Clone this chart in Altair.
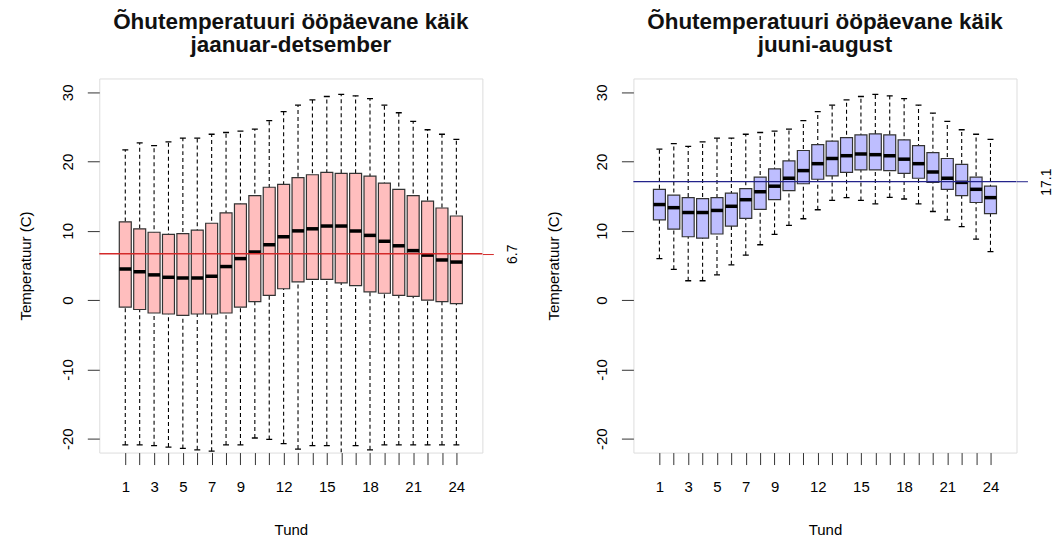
import altair as alt
import pandas as pd

hours = list(range(1, 25))
x_label_hours = [1, 3, 5, 7, 9, 12, 15, 18, 21, 24]
y_ticks = [-20, -10, 0, 10, 20, 30]

# jaanuar-detsember
lo_all = [-20.9, -20.9, -21.0, -21.2, -21.4, -21.6, -21.8, -20.9, -20.9, -19.9, -20.1, -20.7,
          -21.5, -21.0, -21.0, -23.0, -21.0, -21.6, -20.9, -20.9, -20.9, -20.9, -20.9, -20.9]
q1_all = [-1.0, -1.35, -1.85, -2.0, -2.2, -2.0, -2.0, -1.85, -1.0, -0.2, 0.7, 1.65,
          2.65, 3.0, 3.0, 2.5, 2.1, 1.2, 1.0, 0.7, 0.55, 0.0, -0.2, -0.5]
med_all = [4.5, 4.1, 3.65, 3.3, 3.2, 3.2, 3.45, 4.85, 6.0, 6.95, 8.0, 9.15,
           10.0, 10.3, 10.7, 10.7, 10.0, 9.35, 8.5, 7.85, 7.15, 6.5, 5.8, 5.5]
q3_all = [11.3, 10.3, 9.8, 9.5, 9.6, 10.1, 11.1, 12.6, 13.9, 15.1, 16.3, 16.7,
          17.7, 18.1, 18.45, 18.3, 18.3, 17.9, 16.9, 16.0, 15.1, 14.3, 13.3, 12.15]
hi_all = [21.7, 22.7, 22.3, 22.85, 23.4, 23.4, 23.95, 24.2, 24.4, 24.7, 25.9, 27.2,
          28.15, 28.9, 29.4, 29.7, 29.5, 29.1, 28.15, 27.05, 25.8, 24.6, 23.95, 23.2]
mean_all = 6.7

# juuni-august
lo_sum = [6.0, 4.45, 2.8, 2.8, 3.65, 5.1, 6.5, 8.0, 9.5, 10.8, 11.75, 13.05,
          14.4, 14.8, 14.4, 13.9, 14.85, 14.6, 13.9, 12.8, 11.6, 10.6, 8.8, 7.0]
q1_sum = [11.6, 10.25, 9.15, 8.95, 9.55, 10.7, 11.8, 13.1, 14.5, 15.8, 16.8, 17.45,
          17.95, 18.45, 18.8, 18.8, 18.7, 18.3, 17.6, 17.0, 16.0, 15.1, 14.1, 12.5]
med_sum = [13.8, 13.35, 12.65, 12.65, 12.95, 13.55, 14.5, 15.65, 16.45, 17.6, 18.7, 19.7,
           20.45, 20.85, 21.1, 21.0, 20.85, 20.35, 19.7, 18.5, 17.6, 17.0, 16.0, 14.8]
q3_sum = [16.0, 15.15, 14.8, 14.65, 14.8, 15.45, 16.1, 17.75, 18.95, 20.1, 21.6, 22.45,
          22.95, 23.45, 23.85, 24.0, 23.85, 23.15, 22.3, 21.3, 20.45, 19.6, 17.75, 16.45]
hi_sum = [21.8, 22.6, 22.2, 22.85, 23.4, 23.4, 23.95, 24.2, 24.4, 24.7, 25.9, 27.2,
          28.15, 28.9, 29.4, 29.7, 29.5, 29.1, 28.15, 27.0, 25.8, 24.6, 23.95, 23.2]
mean_sum = 17.1

title_line1 = "Õhutemperatuuri ööpäevane käik"
sub_all = "jaanuar-detsember"
sub_sum = "juuni-august"

FONT = "Liberation Sans"
W, H = 384, 375
XDOM = [-0.46, 25.46]
YDOM = [-22, 32]

label_expr = "indexof([" + ",".join(str(v) for v in x_label_hours) + "], datum.value) >= 0 ? datum.label : ''"
minus_expr = "replace(datum.label, '\u2212', '-')"


def panel(lo, q1, med, q3, hi, mean, fill, linecol, sub, ytitle_pad):
    df = pd.DataFrame({"hour": hours, "lo": lo, "q1": q1, "med": med, "q3": q3, "hi": hi})
    base = alt.Chart(df)
    xenc = alt.X("hour:Q", scale=alt.Scale(domain=XDOM, nice=False, zero=False),
                 axis=alt.Axis(values=hours, labelExpr=label_expr, title="Tund", grid=False,
                               domain=False, tickSize=12, tickColor="#333", labelPadding=15,
                               titlePadding=28, labelFontSize=15, titleFontSize=15,
                               titleFontWeight="normal"))
    yscale = alt.Scale(domain=YDOM, nice=False, zero=False)
    yaxis = alt.Axis(values=y_ticks, title="Temperatuur (C)", grid=False, domain=False,
                     tickSize=12, tickColor="#333", labelAngle=-90, labelAlign="center",
                     labelBaseline="bottom", labelPadding=12, titlePadding=ytitle_pad,
                     labelFontSize=15, titleFontSize=15, titleFontWeight="normal",
                     labelExpr=minus_expr)
    whisk = base.mark_rule(strokeDash=[4, 3], color="black", strokeWidth=1.1, clip=True).encode(
        x=xenc, y=alt.Y("lo:Q", scale=yscale, axis=yaxis), y2="hi:Q")
    cap_lo = base.mark_tick(orient="horizontal", size=6, thickness=1.3, color="black",
                            opacity=1, clip=True).encode(
        x=xenc, y=alt.Y("lo:Q", scale=yscale, axis=yaxis))
    cap_hi = base.mark_tick(orient="horizontal", size=6, thickness=1.3, color="black",
                            opacity=1, clip=True).encode(
        x=xenc, y=alt.Y("hi:Q", scale=yscale, axis=yaxis))
    box = base.mark_bar(orient="vertical", size=12, fill=fill, stroke="#333", strokeWidth=1.2,
                        opacity=1).encode(
        x=xenc, y=alt.Y("q1:Q", scale=yscale, axis=yaxis), y2="q3:Q")
    medm = base.mark_tick(orient="horizontal", size=12, thickness=3.5, color="black",
                          opacity=1).encode(
        x=xenc, y=alt.Y("med:Q", scale=yscale, axis=yaxis))
    boxes = alt.layer(whisk, cap_lo, cap_hi, box, medm)
    mdf = pd.DataFrame({"m": [mean]})
    mline = alt.Chart(mdf).mark_rule(color=linecol, strokeWidth=1.3).encode(
        y=alt.Y("m:Q", scale=alt.Scale(domain=YDOM, nice=False, zero=False),
                axis=alt.Axis(orient="right", values=[mean], title=None, grid=False, domain=False,
                              tickSize=11, tickColor=linecol, labelAngle=-90, labelAlign="center",
                              labelBaseline="top", labelPadding=12, labelFontSize=14,
                              format=".1f")))
    return alt.layer(boxes, mline).resolve_scale(y="independent").properties(
        width=W, height=H,
        title=alt.TitleParams(text=[title_line1, sub], fontSize=22.5, fontWeight="bold", font=FONT,
                              anchor="middle", frame="group", offset=22.5, lineHeight=23,
                              color="#111"))


left = panel(lo_all, q1_all, med_all, q3_all, hi_all, mean_all, "#FFBEBE", "#D42A2A", sub_all, 27)
right = panel(lo_sum, q1_sum, med_sum, q3_sum, hi_sum, mean_sum, "#BEBEFF", "#23238A", sub_sum, 32.7)

chart = alt.hconcat(left, right, spacing=25.4).properties(
    padding={"left": 9.5, "top": 1, "right": 0, "bottom": 0}
).configure_view(stroke="#3a3a3a", strokeWidth=1.3).configure_axis(
    labelFont=FONT, titleFont=FONT, labelColor="#222", titleColor="#222"
).configure(background="white")

chart.save("out.html", embed_options={"renderer": "svg", "actions": False})
